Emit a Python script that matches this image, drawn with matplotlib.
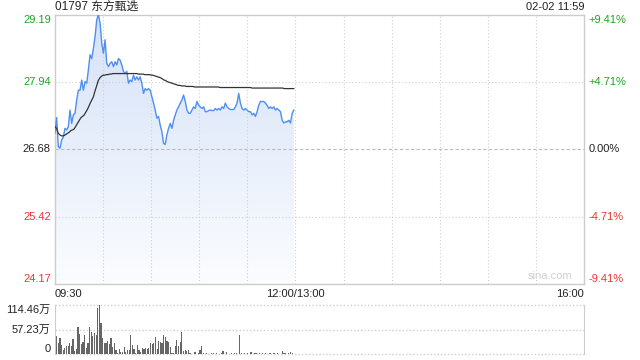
import numpy as np
import matplotlib
matplotlib.use('Agg')
import matplotlib.pyplot as plt
from matplotlib import transforms
from matplotlib.path import Path
from matplotlib.patches import PathPatch

plt.rcParams['font.family'] = ['Liberation Sans', 'Noto Sans CJK SC', 'DejaVu Sans']

'''
data read off the sina minute chart (01797, 02-02)
'''
title = '01797 东方甄选'
stamp = '02-02 11:59'
prev_close = 26.68
price_ticks = [29.19, 27.94, 26.68, 25.42, 24.17]
pct_ticks = ['+9.41%', '+4.71%', '0.00%', '-4.71%', '-9.41%']
vol_ticks = [114.46, 57.23, 0]
vol_tick_labels = ['114.46万', '57.23万', '0']
time_labels = ['09:30', '12:00/13:00', '16:00']
time_label_pos = [0, 150, 330]

price = [26.98, 27.27, 26.73, 26.70, 26.85, 26.91, 27.07, 27.04, 27.10, 27.41,
         27.16, 27.32, 27.35, 27.60, 27.78, 27.78, 27.97, 27.78, 27.94, 27.91,
         28.16, 28.44, 28.37, 28.56, 28.78, 29.09, 29.19, 29.03, 28.65, 28.47,
         28.72, 28.28, 28.22, 28.28, 28.31, 28.22, 28.31, 28.25, 28.37, 28.34,
         28.25, 28.13, 28.09, 28.13, 27.91, 27.97, 27.94, 28.06, 27.97, 28.03,
         27.97, 28.03, 27.91, 27.72, 27.81, 27.78, 27.81, 27.78, 27.66, 27.54,
         27.41, 27.26, 27.29, 27.13, 27.01, 26.79, 26.77, 26.95, 27.07, 27.16,
         27.07, 27.22, 27.32, 27.41, 27.47, 27.54, 27.60, 27.69, 27.57, 27.41,
         27.35, 27.35, 27.41, 27.47, 27.44, 27.57, 27.50, 27.47, 27.44, 27.47,
         27.38, 27.38, 27.40, 27.41, 27.40, 27.40, 27.44, 27.41, 27.44, 27.41,
         27.47, 27.44, 27.54, 27.47, 27.44, 27.42, 27.42, 27.42, 27.47, 27.54,
         27.72, 27.54, 27.44, 27.41, 27.44, 27.41, 27.38, 27.38, 27.32, 27.35,
         27.29, 27.38, 27.50, 27.57, 27.57, 27.57, 27.54, 27.50, 27.44, 27.47,
         27.44, 27.47, 27.41, 27.44, 27.41, 27.38, 27.22, 27.17, 27.19, 27.19,
         27.22, 27.17, 27.35, 27.41]

avg_price = [27.10, 27.07, 26.98, 26.95, 26.93, 26.93, 26.94, 26.96, 26.98, 27.00,
             27.03, 27.04, 27.06, 27.11, 27.16, 27.21, 27.26, 27.29, 27.31, 27.36,
             27.41, 27.47, 27.54, 27.60, 27.66, 27.77, 27.86, 27.96, 28.01, 28.04,
             28.06, 28.06, 28.07, 28.07, 28.08, 28.08, 28.09, 28.09, 28.09, 28.09,
             28.09, 28.09, 28.09, 28.09, 28.09, 28.09, 28.09, 28.09, 28.09, 28.09,
             28.09, 28.09, 28.08, 28.08, 28.08, 28.08, 28.07, 28.07, 28.07, 28.07,
             28.06, 28.06, 28.05, 28.04, 28.03, 28.02, 28.01, 27.99, 27.97, 27.96,
             27.94, 27.93, 27.92, 27.91, 27.90, 27.89, 27.88, 27.87, 27.87, 27.86,
             27.86, 27.86, 27.85, 27.85, 27.85, 27.85, 27.85, 27.84, 27.84, 27.84,
             27.84, 27.84, 27.84, 27.84, 27.84, 27.84, 27.84, 27.84, 27.84, 27.84,
             27.84, 27.84, 27.84, 27.83, 27.83, 27.83, 27.83, 27.83, 27.83, 27.83,
             27.83, 27.83, 27.83, 27.83, 27.83, 27.83, 27.83, 27.83, 27.83, 27.83,
             27.83, 27.83, 27.83, 27.82, 27.82, 27.82, 27.82, 27.82, 27.82, 27.82,
             27.82, 27.82, 27.82, 27.82, 27.82, 27.82, 27.82, 27.82, 27.82, 27.82,
             27.82, 27.82, 27.82, 27.81, 27.81, 27.81, 27.81, 27.81, 27.81, 27.81]

# volume in 万
volume = [42.5, 42.5, 27.0, 37.0, 21.6, 10.0, 14.0, 19.0, 19.0, 27.0,
          19.0, 35.6, 8.5, 11.6, 62.6, 47.0, 24.0, 28.6, 44.8, 14.0,
          27.0, 62.6, 51.0, 42.5, 48.7, 44.8, 106.7, 114.46, 71.9, 37.0,
          27.0, 27.0, 31.7, 24.7, 37.0, 17.8, 25.5, 10.0, 3.9, 11.6,
          4.6, 6.0, 17.8, 6.0, 10.0, 10.0, 44.8, 21.6, 11.6, 3.9,
          21.6, 10.0, 6.0, 14.0, 11.6, 14.0, 11.6, 14.0, 27.0, 24.0,
          27.0, 39.4, 11.6, 31.7, 29.4, 25.5, 44.8, 41.0, 31.7, 29.4,
          17.8, 2.3, 3.9, 19.0, 33.0, 19.0, 27.8, 51.8, 8.5, 10.0,
          8.5, 10.0, 3.9, 1.0, 1.0, 5.4, 1.0, 3.9, 10.0, 19.0,
          2.3, 1.0, 3.9, 1.0, 1.0, 2.3, 3.9, 1.0, 2.3, 1.0,
          1.0, 2.3, 7.7, 1.0, 4.6, 1.0, 1.0, 3.9, 1.0, 2.3,
          2.3, 1.0, 44.8, 2.3, 1.0, 2.3, 1.0, 2.3, 1.0, 5.4,
          1.0, 3.9, 2.3, 1.0, 2.3, 1.0, 2.3, 1.0, 2.3, 1.0,
          3.9, 2.3, 1.0, 2.3, 1.0, 2.3, 1.0, 1.0, 7.7, 2.3,
          2.3, 1.0, 2.3, 5.4, 2.3, 1.0]

green = '#1fa51f'
red = '#ee3333'
grid_c = '#cfcfcf'
frame_c = '#cccccc'

t_price = np.linspace(0, 149, len(price))
t_avg = np.linspace(0, 149, len(avg_price))
t_vol = np.linspace(0, 149, len(volume))

fig = plt.figure(figsize=(6.4, 3.6), dpi=100)
ax = fig.add_axes([0.0859, 0.2111, 0.8266, 0.7486])
axv = fig.add_axes([0.0859, 0.0158, 0.8266, 0.137])

ymin, ymax = price_ticks[-1], price_ticks[0]
ax.set_xlim(0, 330)
ax.set_ylim(ymin, ymax)

# gradient fill under the price line
poly = np.column_stack([np.r_[t_price, t_price[-1], t_price[0]],
                        np.r_[price, ymin, ymin]])
clip = PathPatch(Path(poly), facecolor='none', edgecolor='none')
ax.add_patch(clip)
grad = np.linspace(0, 1, 256).reshape(-1, 1)
top_c = np.array([0.835, 0.886, 0.972])
bot_c = np.array([0.985, 0.99, 1.0])
img = top_c * (1 - grad[..., None]) + bot_c * grad[..., None]
im = ax.imshow(img, extent=[0, 149, ymin, ymax], aspect='auto', origin='upper', zorder=1)
im.set_clip_path(clip)

# grid (drawn over the fill)
for m in range(30, 330, 30):
    ax.axvline(m, color=grid_c, lw=0.8, ls=(0, (1, 2)), zorder=2)
for p in [price_ticks[1], price_ticks[3]]:
    ax.axhline(p, color=grid_c, lw=0.8, ls=(0, (1, 2)), zorder=2)
ax.axhline(prev_close, color='#bbbbbb', lw=0.8, ls=(0, (3, 2)), zorder=2)

ax.plot(t_price, price, color='#4f8ff0', lw=1.0, zorder=3)
ax.plot(t_avg, avg_price, color='#333333', lw=0.9, zorder=3)

ax.set_xticks([])
ax.set_yticks([])
for s in ax.spines.values():
    s.set_color(frame_c)
    s.set_linewidth(1.0)

# axis labels
trans_l = transforms.blended_transform_factory(ax.transAxes, ax.transData)
colors = [green, green, '#222222', red, red]
vas = ['top', 'center', 'center', 'center', 'bottom']
for p, lab, c, va in zip(price_ticks, pct_ticks, colors, vas):
    ax.text(-0.008, p, f'{p:.2f}', transform=trans_l, ha='right', va=va,
            color=c, fontsize=8)
    ax.text(1.009, p, lab, transform=trans_l, ha='left', va=va,
            color=c, fontsize=8)

trans_x = transforms.blended_transform_factory(ax.transData, ax.transAxes)
for pos, lab, ha in zip(time_label_pos, time_labels, ['left', 'center', 'right']):
    ax.text(pos, -0.018, lab, transform=trans_x, ha=ha, va='top', fontsize=8, color='#222222')

ax.text(0, 1.027, title, transform=ax.transAxes, ha='left', va='center', fontsize=8.5, color='#222222')
ax.text(1, 1.027, stamp, transform=ax.transAxes, ha='right', va='center', fontsize=8, color='#222222')
ax.text(0.978, 0.012, 'sina.com', transform=ax.transAxes, ha='right', va='bottom',
        fontsize=8, color='#d0d0d0')

# volume panel
axv.set_xlim(0, 330)
axv.set_ylim(0, vol_ticks[0])
axv.bar(t_vol, volume, width=0.75, color='#666666', zorder=2)
for v in vol_ticks:
    axv.axhline(v, color=grid_c, lw=1.0, ls=(0, (1, 1.5)), zorder=1, clip_on=False)
axv.set_xticks([])
axv.set_yticks([])
for k in ['top', 'bottom']:
    axv.spines[k].set_visible(False)
for k in ['left', 'right']:
    axv.spines[k].set_color(frame_c)
trans_v = transforms.blended_transform_factory(axv.transAxes, axv.transData)
for v, lab, va in zip(vol_ticks, vol_tick_labels, ['top', 'center', 'bottom']):
    axv.text(-0.008, v, lab, transform=trans_v, ha='right', va=va, fontsize=8, color='#222222')

fig.savefig('out.png', dpi=100)
